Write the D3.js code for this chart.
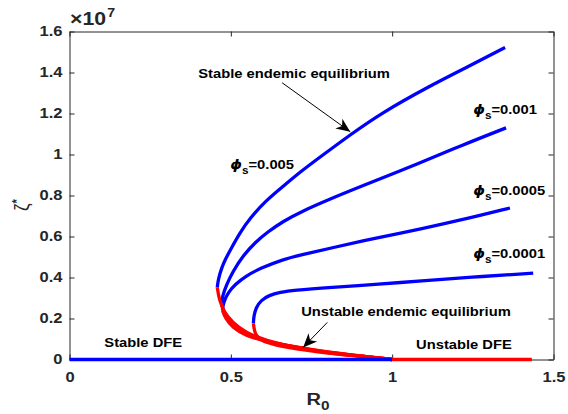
<!DOCTYPE html>
<html>
<head>
<meta charset="utf-8">
<script src="https://cdn.jsdelivr.net/npm/d3@7"></script>
<style>
  body { margin: 0; background: #fff; }
  text { font-family: "Liberation Sans", Arial, sans-serif; font-weight: bold; fill: #262626; }
  .axis path, .axis line { stroke: #262626; stroke-width: 1; }
  .ann { fill: #000; font-size: 12.5px; }
</style>
</head>
<body>
<div id="container"></div>
<script>
// R0 values vs zeta* (in units of 1e7)
const phiLabels = ['0.005', '0.001', '0.0005', '0.0001'];

const stableA = [[0.458,0.352],[0.461,0.391],[0.471,0.445],[0.483,0.489],[0.498,0.533],[0.529,0.621],[0.560,0.690],
  [0.607,0.773],[0.663,0.846],[0.715,0.915],[0.777,0.988],[0.870,1.096],[0.963,1.199],[1.118,1.336],[1.241,1.433],[1.350,1.522]];
const stableB = [[0.471,0.274],[0.474,0.308],[0.486,0.362],[0.505,0.426],[0.539,0.509],[0.576,0.572],
  [0.613,0.621],[0.663,0.675],[0.715,0.719],[0.808,0.783],[0.892,0.837],[1.087,0.959],[1.211,1.042],[1.353,1.130]];
const stableC = [[0.474,0.240],[0.477,0.279],[0.492,0.328],[0.514,0.367],[0.545,0.406],[0.591,0.445],
  [0.663,0.489],[0.715,0.509],[0.808,0.543],[0.963,0.597],[1.087,0.636],[1.241,0.690],[1.365,0.739]];
const stableD = [[0.570,0.176],[0.571,0.210],[0.578,0.254],[0.594,0.289],[0.618,0.313],[0.653,0.328],
  [0.693,0.338],[0.808,0.352],[0.963,0.367],[1.087,0.384],[1.241,0.401],[1.437,0.421]];

const unstableA = [[0.458,0.352],[0.464,0.289],[0.480,0.230],[0.505,0.181],[0.545,0.132],[0.607,0.093],
  [0.700,0.059],[0.808,0.034],[0.916,0.015],[1.000,0]];
const unstableB = [[0.471,0.274],[0.477,0.230],[0.495,0.181],[0.529,0.137],[0.585,0.098],[0.684,0.064],
  [0.808,0.034],[0.916,0.015],[1.000,0]];
const unstableC = [[0.474,0.240],[0.483,0.201],[0.505,0.157],[0.545,0.117],[0.607,0.088],[0.700,0.059],
  [0.808,0.029],[0.916,0.015],[1.000,0]];
const unstableD = [[0.570,0.176],[0.573,0.137],[0.582,0.108],[0.607,0.083],[0.669,0.059],
  [0.808,0.029],[0.916,0.015],[1.000,0]];

const stableDFE = [[0, 0], [1, 0]];
const unstableDFE = [[1, 0], [1.433, 0]];

const xTicks = [0, 0.5, 1, 1.5];
const yTicks = [0, 0.2, 0.4, 0.6, 0.8, 1, 1.2, 1.4, 1.6];

// the reference is stretched sideways, so is the text
const SX = 1.18;

const svg = d3.select('#container').append('svg')
  .attr('width', 568).attr('height', 414);

const x = d3.scaleLinear().domain([0, 1.5]).range([69.5, 553.5]);
const y = d3.scaleLinear().domain([0, 1.6]).range([359.5, 31.5]);

// axes (box with inward ticks)
const xAxis = svg.append('g').attr('class', 'axis')
  .attr('transform', `translate(0, ${y(0)})`)
  .call(d3.axisBottom(x).tickValues(xTicks).tickSize(-5).tickSizeOuter(0).tickPadding(13).tickFormat(d3.format('')));
xAxis.selectAll('text').attr('font-size', 14).attr('transform', `scale(${SX},1)`);

const yAxis = svg.append('g').attr('class', 'axis')
  .attr('transform', `translate(${x(0)}, 0)`)
  .call(d3.axisLeft(y).tickValues(yTicks).tickSize(-5).tickSizeOuter(0).tickFormat(d3.format('')));
yAxis.selectAll('text').attr('font-size', 14).attr('x', -7 / SX).attr('transform', `scale(${SX},1)`);

svg.append('g').attr('class', 'axis')
  .attr('transform', `translate(0, ${y(1.6)})`)
  .call(d3.axisTop(x).tickValues(xTicks).tickSize(-5).tickSizeOuter(0).tickFormat(''));
svg.append('g').attr('class', 'axis')
  .attr('transform', `translate(${x(1.5)}, 0)`)
  .call(d3.axisRight(y).tickValues(yTicks).tickSize(-5).tickSizeOuter(0).tickFormat(''));
svg.selectAll('.axis text').attr('fill', '#262626');

// curves
const line = d3.line()
  .x(d => x(d[0]))
  .y(d => y(d[1]))
  .curve(d3.curveBasis);

[stableA, stableB, stableC, stableD].forEach(s => {
  svg.append('path').attr('d', line(s))
    .attr('fill', 'none').attr('stroke', '#0000ff').attr('stroke-width', 3.3);
});
[unstableA, unstableB, unstableC, unstableD].forEach(s => {
  svg.append('path').attr('d', line(s))
    .attr('fill', 'none').attr('stroke', '#ff0000').attr('stroke-width', 3.3);
});

svg.append('path').attr('d', d3.line().x(d => x(d[0])).y(d => y(d[1]))(stableDFE))
  .attr('stroke', '#0000ff').attr('stroke-width', 3.5);
svg.append('path').attr('d', d3.line().x(d => x(d[0])).y(d => y(d[1]))(unstableDFE))
  .attr('stroke', '#ff0000').attr('stroke-width', 3.5);

// annotations
function label(px, py, cls) {
  return svg.append('text').attr('class', cls || 'ann')
    .attr('transform', `translate(${px}, ${py}) scale(${SX},1)`);
}

label(x(0.399), y(1.375)).text('Stable endemic equilibrium');
label(x(0.718), y(0.210)).text('Unstable endemic equilibrium');
label(x(0.108), y(0.059)).text('Stable DFE');
label(x(1.074), y(0.049)).text('Unstable DFE');

const phiPos = [[0.498, 0.930], [1.251, 1.199], [1.251, 0.802], [1.251, 0.494]];
phiLabels.forEach((p, i) => {
  const t = label(x(phiPos[i][0]), y(phiPos[i][1]));
  t.append('tspan').attr('font-style', 'italic').attr('font-family', 'DejaVu Sans').attr('font-size', 12.5).text('\u03D5');
  t.append('tspan').attr('font-size', 10).attr('dy', 5).text('s');
  t.append('tspan').attr('dy', -5).text('=' + p);
});

// arrows
const defs = svg.append('defs');
defs.append('marker')
  .attr('id', 'head')
  .attr('markerUnits', 'userSpaceOnUse')
  .attr('viewBox', '-15 -7 17 14')
  .attr('refX', 0).attr('refY', 0)
  .attr('markerWidth', 17).attr('markerHeight', 14)
  .attr('orient', 'auto')
  .append('path').attr('d', 'M0,0 L-14,-6 L-10,0 L-14,6 Z').attr('fill', '#000');

const arrows = [[[0.659, 1.350], [0.870, 1.111]], [[0.799, 0.181], [0.724, 0.059]]];
arrows.forEach(a => {
  svg.append('line')
    .attr('x1', x(a[0][0])).attr('y1', y(a[0][1]))
    .attr('x2', x(a[1][0])).attr('y2', y(a[1][1]))
    .attr('stroke', '#000').attr('stroke-width', 1)
    .attr('marker-end', 'url(#head)');
});

// axis labels
const ex = label(70, 25, 'lbl');
ex.style('font-size', '18px').style('fill', '#262626').text('\u00D710');
ex.append('tspan').style('font-size', '12px').attr('dy', -8).attr('dx', 1).text('7');

const xl = label(x(0.75) - 5, 405, 'lbl');
xl.style('font-size', '17px').style('fill', '#262626').text('R');
xl.append('tspan').style('font-size', '13px').attr('dy', 5).text('0');

const yl = svg.append('text')
  .attr('transform', `translate(29, 205) scale(${SX},1) rotate(-90)`)
  .attr('text-anchor', 'middle').style('font-size', '17px').style('fill', '#262626');
yl.append('tspan').attr('font-weight', 'normal').text('\u03B6');
yl.append('tspan').style('font-size', '11px').attr('dy', -7).text('*');
</script>
</body>
</html>
